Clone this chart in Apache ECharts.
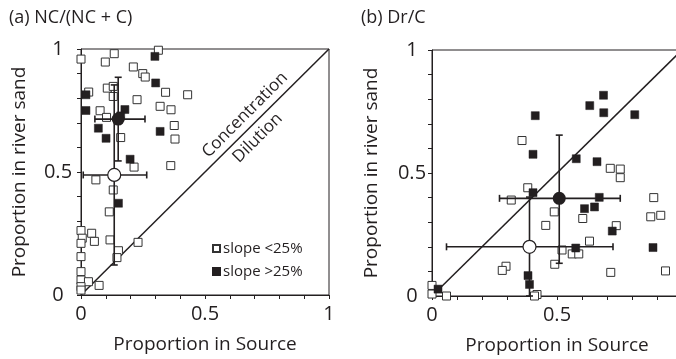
<!DOCTYPE html>
<html>
<head>
<meta charset="utf-8">
<script src="https://cdn.jsdelivr.net/npm/echarts@6/dist/echarts.min.js"></script>
<style>
  html, body { margin: 0; padding: 0; background: #fff; }
  #chart { width: 676px; height: 359px; }
</style>
</head>
<body>
<div id="chart"></div>
<script>
// panel (a) NC/(NC+C): [proportion in source, proportion in river sand]
const slopeLowA = [
  [0.00, 0.959], [0.134, 0.981], [0.098, 0.947], [0.312, 0.995], [0.211, 0.927],
  [0.249, 0.900], [0.259, 0.886], [0.031, 0.825], [0.106, 0.841], [0.130, 0.848],
  [0.130, 0.807], [0.226, 0.794], [0.341, 0.824], [0.430, 0.814], [0.319, 0.767],
  [0.363, 0.753], [0.077, 0.749], [0.103, 0.722], [0.376, 0.689], [0.379, 0.634],
  [0.160, 0.640], [0.362, 0.526], [0.214, 0.520], [0.060, 0.468], [0.130, 0.427],
  [0.114, 0.338], [0.000, 0.262], [0.043, 0.251], [0.005, 0.231], [0.054, 0.218],
  [0.000, 0.210], [0.117, 0.224], [0.151, 0.180], [0.145, 0.152], [0.230, 0.214],
  [0.000, 0.156], [0.000, 0.095], [0.000, 0.061], [0.030, 0.054], [0.073, 0.039],
  [0.000, 0.034], [0.000, 0.020]
];
const slopeHighA = [
  [0.298, 0.970], [0.301, 0.862], [0.020, 0.814], [0.020, 0.750], [0.177, 0.754],
  [0.160, 0.728], [0.070, 0.678], [0.101, 0.637], [0.319, 0.665], [0.198, 0.552],
  [0.151, 0.373]
];
// means (open = slope <25%, filled = slope >25%) with their error ranges
const meanLowA = [0.134, 0.488], xRangeLowA = [0.009, 0.265], yRangeLowA = [0.122, 0.854];
const meanHighA = [0.150, 0.715], xRangeHighA = [0.056, 0.258], yRangeHighA = [0.545, 0.885];

// panel (b) Dr/C
const slopeLowB = [
  [0.360, 0.632], [0.713, 0.519], [0.753, 0.516], [0.753, 0.481], [0.383, 0.440],
  [0.317, 0.390], [0.489, 0.342], [0.603, 0.315], [0.455, 0.287], [0.737, 0.286],
  [0.887, 0.400], [0.875, 0.322], [0.915, 0.328], [0.630, 0.223], [0.520, 0.187],
  [0.561, 0.171], [0.587, 0.171], [0.491, 0.129], [0.296, 0.121], [0.281, 0.104],
  [0.715, 0.096], [0.934, 0.102], [0.000, 0.043], [0.000, 0.008], [0.058, 0.000],
  [0.420, 0.006], [0.410, 0.000]
];
const slopeHighB = [
  [0.413, 0.733], [0.631, 0.774], [0.686, 0.816], [0.687, 0.745], [0.811, 0.737],
  [0.404, 0.576], [0.577, 0.558], [0.660, 0.546], [0.404, 0.420], [0.669, 0.401],
  [0.610, 0.355], [0.650, 0.362], [0.721, 0.264], [0.884, 0.197], [0.575, 0.195],
  [0.384, 0.083], [0.390, 0.047], [0.024, 0.028]
];
const meanLowB = [0.390, 0.200], xRangeLowB = [0.058, 0.724], yRangeLowB = [0.000, 0.402];
const meanHighB = [0.509, 0.397], xRangeHighB = [0.270, 0.753], yRangeHighB = [0.133, 0.654];

const oneToOne = [[0, 0], [1, 1]];
const tickLabels = ['0', '0.5', '1'];
// rotated notes along the 1:1 line in panel (a)
const notesA = [
  { name: 'Concentration', value: [0.661, 0.732] },
  { name: 'Dilution', value: [0.712, 0.638] }
];

const FONT = 'Open Sans';
const INK = '#231f20';
const LOW = 'slope <25%';
const HIGH = 'slope >25%';

function tickText(v) {
  const hit = tickLabels.find(t => Math.abs(parseFloat(t) - v) < 1e-6);
  return hit || '';
}

function axis(gridIndex, dim) {
  const isX = dim === 'x';
  return {
    type: 'value',
    gridIndex,
    min: 0,
    max: 1,
    interval: 0.1,
    name: isX ? 'Proportion in Source' : 'Proportion in river sand',
    nameLocation: 'middle',
    nameGap: isX ? 40 : (gridIndex === 0 ? 52 : 51),
    nameTextStyle: { fontFamily: FONT, fontSize: 19, color: INK },
    axisLine: { show: true, lineStyle: { color: INK, width: 1 } },
    axisTick: { show: true, inside: false, length: 4, lineStyle: { color: INK, width: 1 } },
    axisLabel: {
      show: true,
      formatter: tickText,
      showMinLabel: true,
      showMaxLabel: true,
      margin: isX ? 9 : (gridIndex === 0 ? 23 : 20),
      align: 'center',
      fontFamily: FONT,
      fontSize: 20,
      color: INK
    },
    splitLine: { show: false }
  };
}

function squares(name, data, gridIndex, filled) {
  return {
    name,
    type: 'scatter',
    xAxisIndex: gridIndex,
    yAxisIndex: gridIndex,
    data,
    symbol: 'rect',
    symbolSize: 8,
    clip: false,
    z: 2,
    itemStyle: filled
      ? { color: INK, borderColor: INK, borderWidth: 0.5, opacity: 1 }
      : { color: '#fff', borderColor: '#333', borderWidth: 1, opacity: 1 }
  };
}

function errorBars(gridIndex, rows) {
  return {
    type: 'custom',
    xAxisIndex: gridIndex,
    yAxisIndex: gridIndex,
    data: rows,
    clip: false,
    z: 3,
    silent: true,
    renderItem(params, api) {
      const x = api.value(0), y = api.value(1);
      const xl = api.coord([api.value(2), y]);
      const xh = api.coord([api.value(3), y]);
      const yl = api.coord([x, api.value(4)]);
      const yh = api.coord([x, api.value(5)]);
      const cap = 3.5;
      const style = { stroke: INK, lineWidth: 1.6 };
      const seg = (x1, y1, x2, y2) => ({ type: 'line', shape: { x1, y1, x2, y2 }, style });
      return {
        type: 'group',
        children: [
          seg(xl[0], xl[1], xh[0], xh[1]),
          seg(yl[0], yl[1], yh[0], yh[1]),
          seg(xl[0], xl[1] - cap, xl[0], xl[1] + cap),
          seg(xh[0], xh[1] - cap, xh[0], xh[1] + cap),
          seg(yl[0] - cap, yl[1], yl[0] + cap, yl[1]),
          seg(yh[0] - cap, yh[1], yh[0] + cap, yh[1])
        ]
      };
    }
  };
}

function means(gridIndex, low, high) {
  return [
    {
      type: 'scatter', xAxisIndex: gridIndex, yAxisIndex: gridIndex, z: 4, clip: false,
      silent: true, symbol: 'circle', symbolSize: 13, data: [low],
      itemStyle: { color: '#fff', borderColor: INK, borderWidth: 1.2, opacity: 1 }
    },
    {
      type: 'scatter', xAxisIndex: gridIndex, yAxisIndex: gridIndex, z: 4, clip: false,
      silent: true, symbol: 'circle', symbolSize: 13, data: [high],
      itemStyle: { color: INK, opacity: 1 }
    }
  ];
}

function diagonal(gridIndex) {
  return {
    type: 'line', xAxisIndex: gridIndex, yAxisIndex: gridIndex, data: oneToOne,
    symbol: 'none', silent: true, z: 1,
    lineStyle: { color: INK, width: 1.5 }
  };
}

const chart = echarts.init(document.getElementById('chart'), null, { renderer: 'canvas' });

const titleStyle = { fontFamily: FONT, fontSize: 18, fontWeight: 'normal', color: INK };

chart.setOption({
  animation: false,
  backgroundColor: '#fff',
  title: [
    { text: '(a) NC/(NC + C)', left: 4, top: 4, textStyle: titleStyle },
    { text: '(b) Dr/C', left: 356, top: 4, textStyle: titleStyle }
  ],
  legend: {
    data: [LOW, HIGH],
    orient: 'vertical',
    left: 207,
    top: 236,
    itemWidth: 7,
    itemHeight: 7,
    itemGap: 8,
    selectedMode: false,
    textStyle: { fontFamily: FONT, fontSize: 15, color: INK, padding: [0, 0, 0, -2] }
  },
  grid: [
    { left: 81, top: 49, width: 248, height: 246, show: true, borderColor: INK, borderWidth: 1,
      outerBoundsMode: 'none' },
    { left: 432, top: 50, width: 250, height: 246, show: true, borderColor: INK, borderWidth: 1,
      outerBoundsMode: 'none' }
  ],
  xAxis: [axis(0, 'x'), axis(1, 'x')],
  yAxis: [axis(0, 'y'), axis(1, 'y')],
  series: [
    diagonal(0),
    squares(LOW, slopeLowA, 0, false),
    squares(HIGH, slopeHighA, 0, true),
    errorBars(0, [
      [...meanLowA, ...xRangeLowA, ...yRangeLowA],
      [...meanHighA, ...xRangeHighA, ...yRangeHighA]
    ]),
    ...means(0, meanLowA, meanHighA),
    {
      type: 'scatter', xAxisIndex: 0, yAxisIndex: 0, data: notesA, symbolSize: 0, silent: true,
      itemStyle: { opacity: 1 },
      label: {
        show: true, position: 'inside', rotate: 45, formatter: '{b}',
        fontFamily: FONT, fontSize: 17, color: INK, opacity: 1
      }
    },
    diagonal(1),
    squares(LOW, slopeLowB, 1, false),
    squares(HIGH, slopeHighB, 1, true),
    errorBars(1, [
      [...meanLowB, ...xRangeLowB, ...yRangeLowB],
      [...meanHighB, ...xRangeHighB, ...yRangeHighB]
    ]),
    ...means(1, meanLowB, meanHighB)
  ]
});
</script>
</body>
</html>
